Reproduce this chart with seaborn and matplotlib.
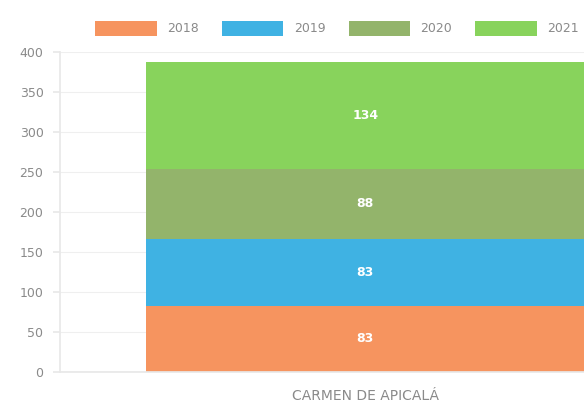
import numpy as np
import pandas as pd
import seaborn as sns
import matplotlib.pyplot as plt
from matplotlib.patches import Patch

# Values
municipio = ['CARMEN DE APICALÁ']
years     = ['2018', '2019', '2020', '2021']
values    = [83, 83, 88, 134]
colors    = ['#F6945F', '#3FB2E3', '#93B46B', '#88D35C']

sns.set_theme(style='white')
plt.rcParams['font.family'] = ['DejaVu Sans']

df = pd.DataFrame({'municipio': municipio * len(years),
                   'year': years,
                   'value': values})
df['top'] = df['value'].cumsum()

fig = plt.figure(figsize=(5.84, 4.03), dpi=100)
# plot area runs past the right edge, as in the cropped original
ax = fig.add_axes([0.103, 0.077, 1.045, 0.794])

# Stacked bars: draw cumulative totals from the tallest down
for i in reversed(range(len(years))):
    sub = df.iloc[[i]]
    sns.barplot(data=sub, x='municipio', y='top', color=colors[i],
                width=0.72, saturation=1, linewidth=0, edgecolor='none',
                ax=ax, zorder=2)

# Value labels centred in each segment
for i, row in df.iterrows():
    ax.text(0, row['top'] - row['value'] / 2, str(row['value']),
            ha='center', va='center', color='white', fontsize=9,
            fontweight='bold', zorder=3)

ax.set_ylim(0, 400)
ax.set_yticks(np.arange(0, 401, 50))
ax.yaxis.grid(True, color='#efefef', linewidth=0.8, zorder=0)
ax.set_xlabel('')
ax.set_ylabel('')
for s in ['top', 'right']:
    ax.spines[s].set_visible(False)
ax.spines['left'].set_color('#e8e8e8')
ax.spines['bottom'].set_color('#e8e8e8')
ax.tick_params(axis='y', colors='#8a8a8a', labelsize=9, length=5,
               color='#e8e8e8', left=True, pad=7)
ax.tick_params(axis='x', colors='#8a8a8a', labelsize=10, length=0, pad=12)

handles = [Patch(facecolor=c, edgecolor='none', label=y) for c, y in zip(colors, years)]
fig.legend(handles=handles, loc='center left', bbox_to_anchor=(0.144, 0.93),
           ncol=4, frameon=False, fontsize=9, labelcolor='#8a8a8a',
           handlelength=4.9, handleheight=1.5, handletextpad=0.85,
           columnspacing=1.85)

fig.savefig('out.png', dpi=100)
